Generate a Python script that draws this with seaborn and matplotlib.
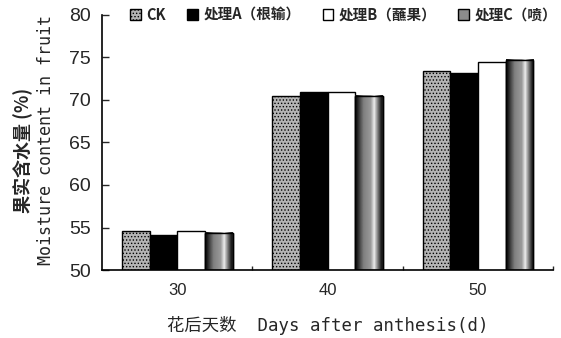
import numpy as np
import pandas as pd
import matplotlib
matplotlib.use("Agg")
import matplotlib.pyplot as plt
import seaborn as sns

days = ["30", "40", "50"]
treatments = ["CK", "处理A（根输）", "处理B（蘸果）", "处理C（喷）"]
ck = [54.6, 70.5, 73.4]
trt_a = [54.1, 70.9, 73.2]
trt_b = [54.6, 70.9, 74.5]
trt_c = [54.4, 70.5, 74.7]
y_ticks = [50, 55, 60, 65, 70, 75, 80]
y_range = (50, 80)

df = pd.DataFrame({
    "day": days * 4,
    "treatment": [t for t in treatments for _ in days],
    "moisture": ck + trt_a + trt_b + trt_c,
})

sns.set_style("white")
plt.rcParams["font.family"] = ["Liberation Sans", "Noto Sans CJK SC"]
plt.rcParams["hatch.linewidth"] = 0.6

fig = plt.figure(figsize=(5.61, 3.38), dpi=100)
ax = fig.add_axes([0.182, 0.201, 0.804, 0.755])

sns.barplot(data=df, x="day", y="moisture", hue="treatment", order=days,
            hue_order=treatments, width=0.735, gap=0, ax=ax,
            edgecolor="black", linewidth=1.0, legend=False)

styles = [
    dict(facecolor="#b4b4b4", hatch="....."),
    dict(facecolor="black", hatch=None),
    dict(facecolor="white", hatch=None),
    dict(facecolor="#8c8c8c", hatch=None),
]
for cont, st in zip(ax.containers, styles):
    for bar in cont:
        bar.set_facecolor(st["facecolor"])
        bar.set_edgecolor("black")
        if st["hatch"]:
            bar.set_hatch(st["hatch"])

# vertical shaded stripes for treatment C
profile = np.array([[0.08, 0.3, 0.5, 0.55, 0.6, 0.92, 0.5, 0.12]])
for bar in ax.containers[3]:
    x0, w = bar.get_x(), bar.get_width()
    bottom = max(bar.get_y(), y_range[0])
    top = bar.get_y() + bar.get_height()
    im = ax.imshow(profile, cmap="gray", vmin=0, vmax=1, aspect="auto",
                   extent=[x0, x0 + w, bottom, top], interpolation="bilinear",
                   zorder=bar.get_zorder() + 0.1)
    ax.add_patch(plt.Rectangle((x0, bottom), w, top - bottom, fill=False,
                               edgecolor="black", linewidth=1.0,
                               zorder=bar.get_zorder() + 0.2))

ax.set_xlim(-0.5, 2.5)
ax.set_ylim(*y_range)
ax.set_yticks(y_ticks)
ax.set_xticks([0, 1, 2])
ax.set_xticklabels(days, fontsize=12)
ax.set_xticks([0.5, 1.5, 2.5], minor=True)
ax.tick_params(axis="y", which="major", direction="in", length=5, width=1,
               labelsize=14, left=True, pad=8)
ax.tick_params(axis="x", which="major", length=0, pad=9)
ax.tick_params(axis="x", which="minor", direction="in", length=3, width=1,
               bottom=True)

for side in ["top", "right"]:
    ax.spines[side].set_visible(False)
for side in ["left", "bottom"]:
    ax.spines[side].set_color("black")
    ax.spines[side].set_linewidth(1.2)

ax.set_xlabel("")
ax.set_ylabel("")

mono = ["DejaVu Sans Mono", "Noto Sans CJK SC"]
fig.text(0.042, 0.555, "果实含水量 (%)", rotation=90, ha="center", va="center",
         fontsize=13, fontweight="bold", family=["Noto Sans CJK SC"])
fig.text(0.082, 0.585, "Moisture content in fruit", rotation=90, ha="center",
         va="center", fontsize=12, family=mono)
fig.text(0.585, 0.038, "花后天数  Days after anthesis(d)", ha="center",
         va="center", fontsize=12.5, family=mono)

handles = list(ax.containers[i][0] for i in range(4))
leg = ax.legend(handles, treatments, loc="center", bbox_to_anchor=(0.535, 1.0),
                ncol=4, frameon=False, handlelength=0.75, handleheight=0.75,
                handletextpad=0.35, columnspacing=1.5,
                prop={"family": ["Noto Sans CJK SC"], "size": 10.5,
                      "weight": "bold"})

fig.savefig("out.png", dpi=100)
